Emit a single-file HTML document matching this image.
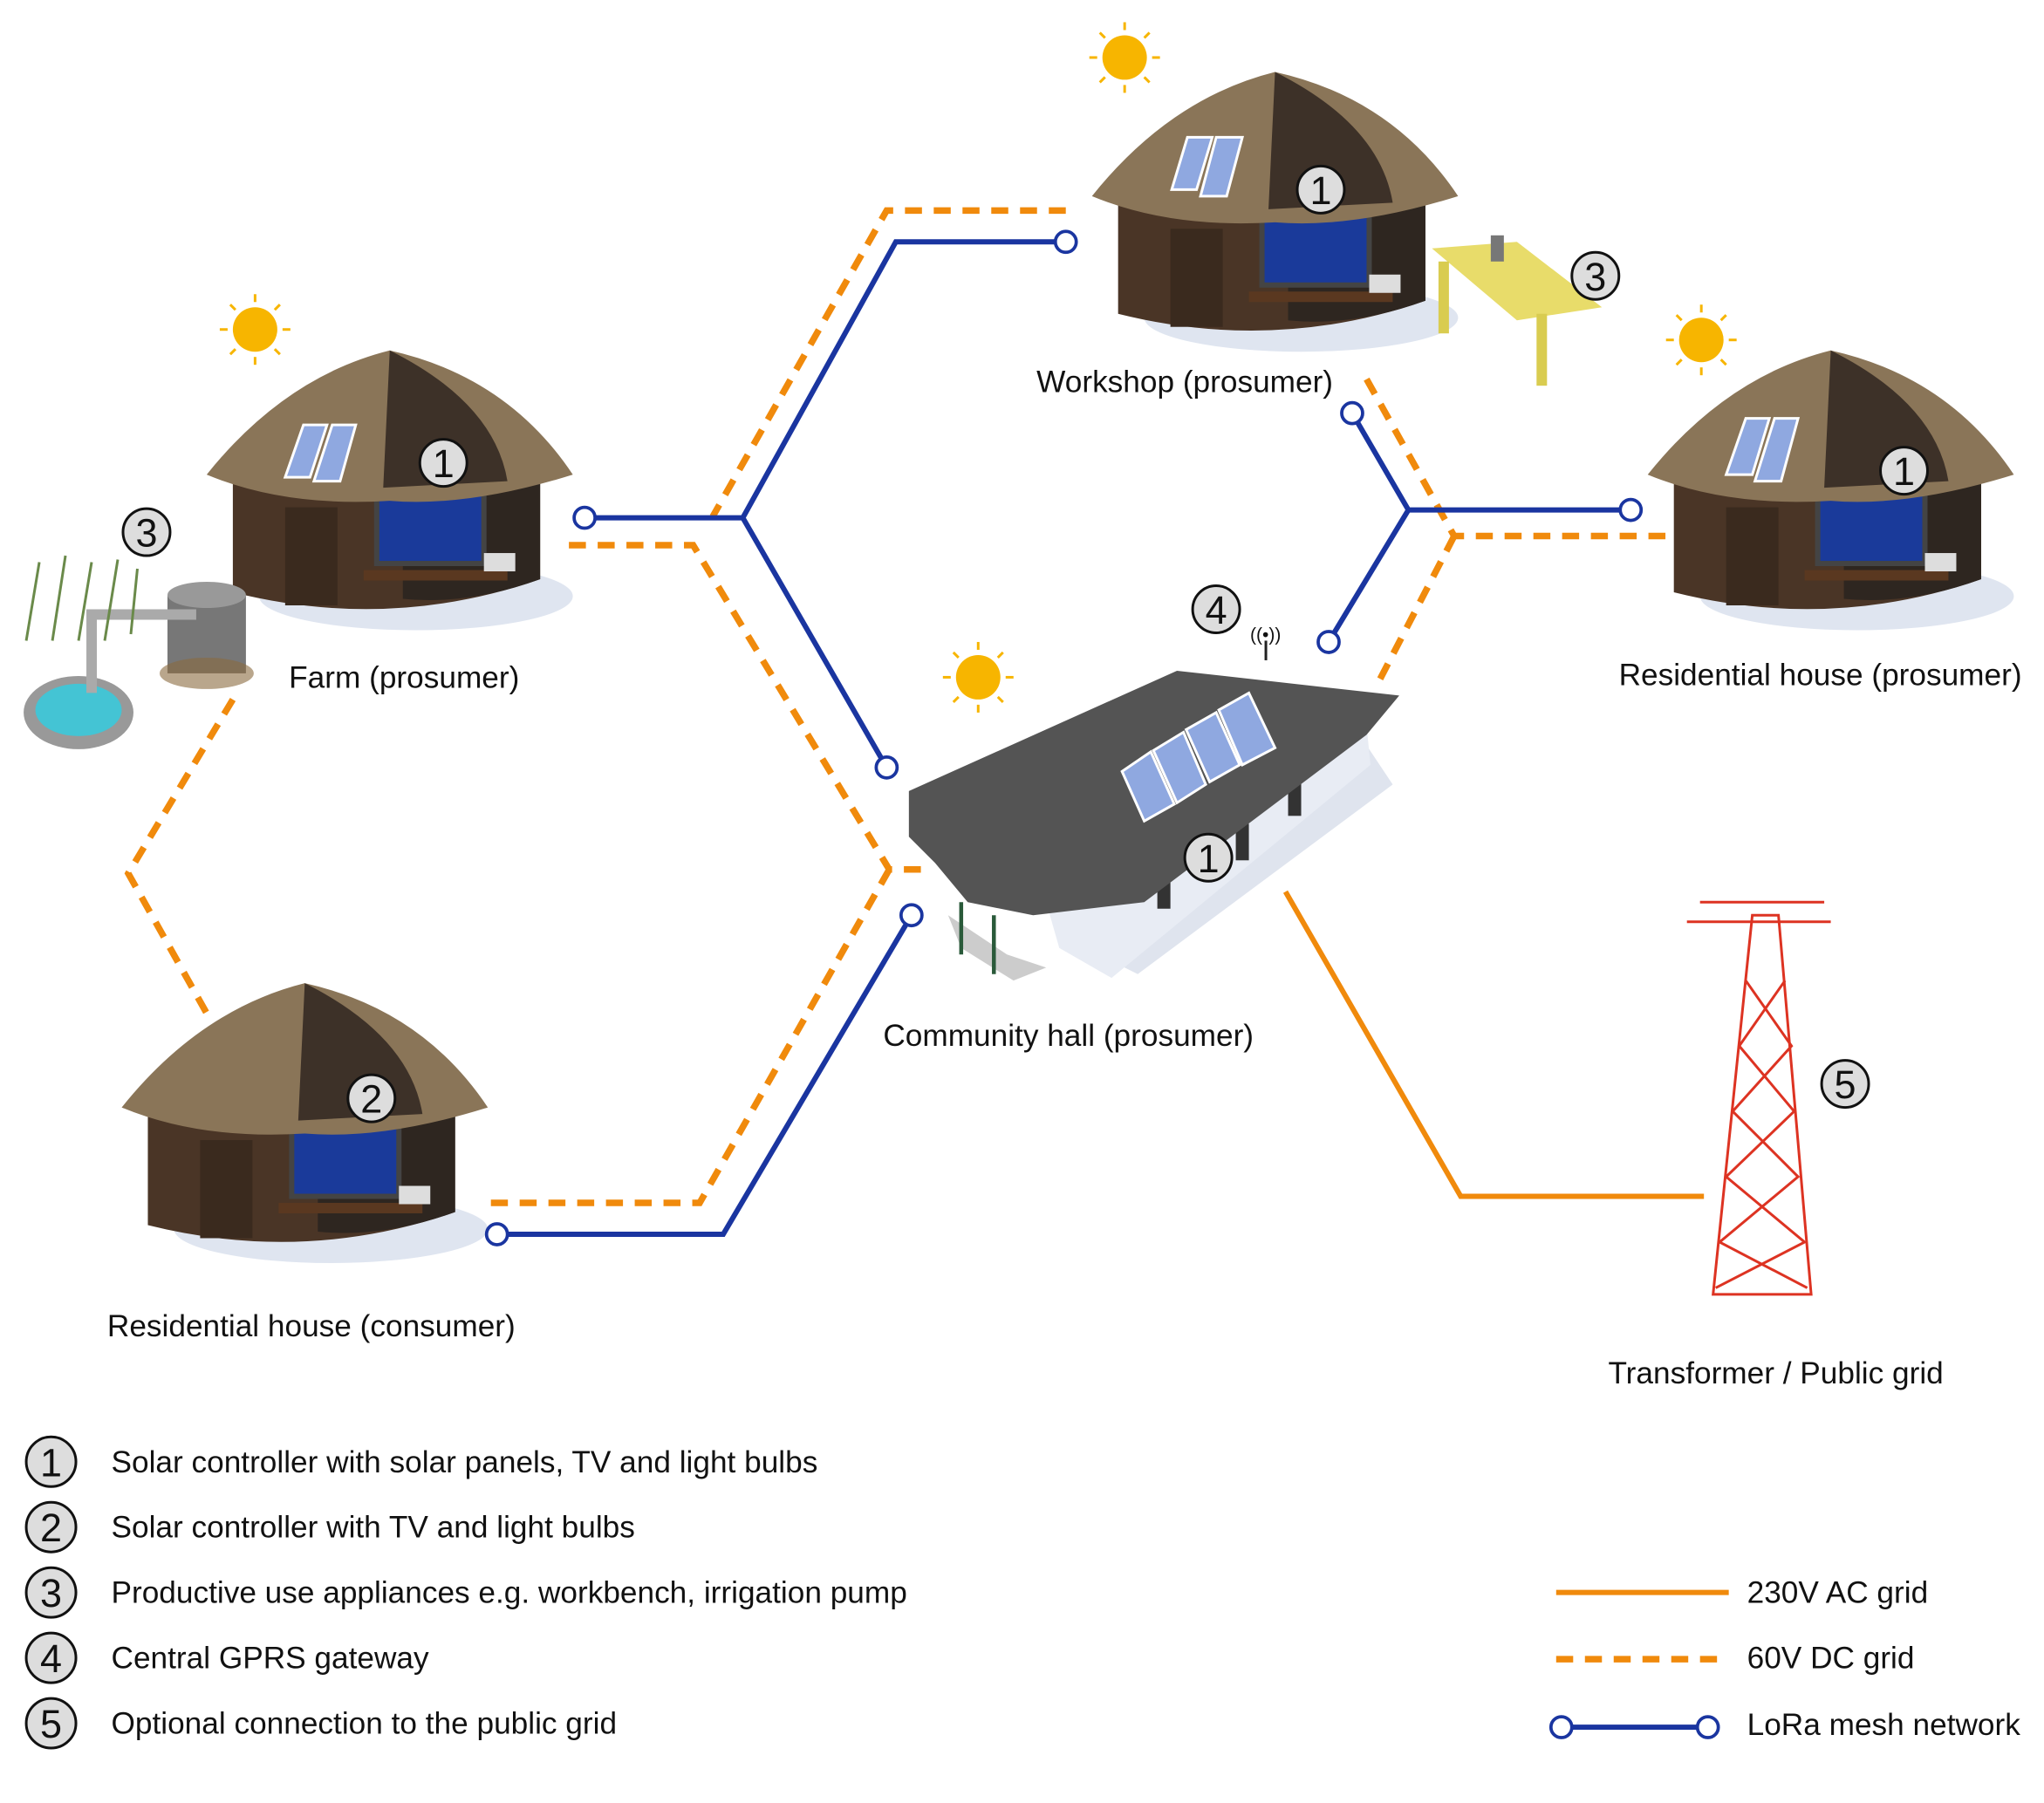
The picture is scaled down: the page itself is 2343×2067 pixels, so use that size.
<!DOCTYPE html>
<html><head><meta charset="utf-8"><style>
html,body{margin:0;padding:0;background:#fff}
svg{display:block}
text{font-family:"Liberation Sans",sans-serif;fill:#111}
</style></head><body>
<svg width="2343" height="2067" viewBox="0 0 1563 1379" xmlns="http://www.w3.org/2000/svg">
<defs>
<g id="sun"><circle r="17" fill="#f7b500"/><g stroke="#f7b500" stroke-width="2">
<line x1="0" y1="-21" x2="0" y2="-27"/><line x1="0" y1="21" x2="0" y2="27"/><line x1="-21" y1="0" x2="-27" y2="0"/><line x1="21" y1="0" x2="27" y2="0"/>
<line x1="15" y1="15" x2="19" y2="19"/><line x1="-15" y1="15" x2="-19" y2="19"/><line x1="15" y1="-15" x2="19" y2="-19"/><line x1="-15" y1="-15" x2="-19" y2="-19"/></g></g>
<g id="hut">
<ellipse cx="160" cy="188" rx="120" ry="26" fill="#dfe5f0"/>
<path d="M20 100 L20 185 Q140 215 255 175 L255 100 Z" fill="#4a3526"/>
<path d="M150 95 L255 100 L255 175 Q200 195 150 190 Z" fill="#2e2620"/>
<rect x="60" y="120" width="40" height="75" fill="#3a2a1e"/>
<rect x="130" y="105" width="82" height="58" fill="#1a3a9a" stroke="#444" stroke-width="4"/>
<rect x="120" y="168" width="110" height="8" fill="#5a3820"/>
<rect x="212" y="155" width="24" height="14" fill="#ddd"/>
<path d="M0 95 Q60 20 140 0 Q230 20 280 95 Q200 120 140 115 Q60 120 0 95 Z" fill="#8a7558"/>
<path d="M140 0 L135 105 L230 100 Q220 40 140 0 Z" fill="#3d3128"/>
</g>
</defs>

<use href="#sun" x="860" y="44"/>
<use href="#sun" x="195" y="252"/>
<use href="#sun" x="1301" y="260"/>
<use href="#sun" x="748" y="518"/>

<use href="#hut" x="835" y="55"/>
<use href="#hut" x="158" y="268"/>
<use href="#hut" x="1260" y="268"/>
<use href="#hut" x="93" y="752"/>
<g fill="#8fa8e0" stroke="#fff" stroke-width="2">
<polygon points="908,105 927,105 915,145 896,145"/><polygon points="930,105 950,105 938,150 918,150"/>
<polygon points="232,325 250,325 237,365 218,365"/><polygon points="254,325 272,325 260,368 240,368"/>
<polygon points="1335,320 1353,320 1340,363 1320,363"/><polygon points="1357,320 1375,320 1362,368 1342,368"/>
</g>

<polygon points="1095,190 1160,185 1225,235 1160,245" fill="#e8dc6a"/>
<rect x="1100" y="200" width="8" height="55" fill="#d9cc50"/><rect x="1175" y="240" width="8" height="55" fill="#d9cc50"/>
<rect x="1140" y="180" width="10" height="20" fill="#777"/>
<ellipse cx="60" cy="545" rx="42" ry="28" fill="#999"/><ellipse cx="60" cy="543" rx="33" ry="20" fill="#44c4d4"/>
<rect x="128" y="455" width="60" height="60" fill="#777"/><ellipse cx="158" cy="455" rx="30" ry="10" fill="#999"/>
<ellipse cx="158" cy="515" rx="36" ry="12" fill="#8a6a40" opacity="0.6"/>
<path d="M70 530 V470 H150" stroke="#aaa" stroke-width="8" fill="none"/>
<g stroke="#6a8a4a" stroke-width="2"><line x1="20" y1="490" x2="30" y2="430"/><line x1="40" y1="490" x2="50" y2="425"/><line x1="60" y1="490" x2="70" y2="430"/><line x1="80" y1="490" x2="90" y2="428"/><line x1="100" y1="485" x2="105" y2="435"/></g>

<!-- community hall -->
<polygon points="1045,570 1065,600 870,745 850,735" fill="#dfe4ee"/>
<polygon points="800,690 1045,555 1048,585 850,748 810,725" fill="#e8ecf4"/>
<g fill="#333"><rect x="885" y="665" width="10" height="30"/><rect x="945" y="630" width="10" height="28"/><rect x="985" y="598" width="10" height="26"/></g>
<polygon points="695,605 900,513 1070,532 1045,562 875,690 790,700 740,690 715,660 695,640" fill="#545454"/>
<polygon points="725,700 770,730 800,740 775,750 735,725" fill="#ccc"/>
<line x1="735" y1="690" x2="735" y2="730" stroke="#2a5a3a" stroke-width="3"/>
<line x1="760" y1="700" x2="760" y2="745" stroke="#2a5a3a" stroke-width="3"/>
<g fill="#8fa8e0" stroke="#fff" stroke-width="2">
<polygon points="858,590 880,575 898,615 875,628"/><polygon points="882,574 905,560 922,600 900,614"/>
<polygon points="907,558 930,545 948,585 925,598"/><polygon points="932,543 955,530 975,572 950,585"/></g>
<line x1="968" y1="505" x2="968" y2="490" stroke="#222" stroke-width="2"/>
<text x="956" y="490" font-size="14">((•))</text>

<g stroke="#d32" stroke-width="2" fill="none">
<polygon points="1340,700 1360,700 1385,990 1310,990"/>
<line x1="1290" y1="705" x2="1400" y2="705"/><line x1="1300" y1="690" x2="1395" y2="690"/>
<path d="M1335 750 L1370 800 L1325 850 L1375 900 L1315 950 L1382 985"/>
<path d="M1365 750 L1330 800 L1372 850 L1320 900 L1380 950 L1312 985"/>
</g>

<g stroke="#f08a0c" stroke-width="5" fill="none" stroke-dasharray="13 9">
<polyline points="815,161 678,161 545,395"/>
<polyline points="435,417 530,417 680,665 712,665"/>
<polyline points="680,665 535,920 370,920"/>
<polyline points="178,535 98,668 158,775"/>
<polyline points="1045,290 1112,410 1280,410"/>
<polyline points="1112,410 1055,520"/>
</g>
<polyline points="983,682 1117,915 1303,915" stroke="#f08a0c" stroke-width="4" fill="none"/>
<g stroke="#1a35a0" stroke-width="4" fill="none">
<polyline points="447,396 568,396 685,185 815,185"/>
<polyline points="568,396 678,587"/>
<polyline points="697,700 553,944 380,944"/>
<polyline points="1034,316 1077,390 1247,390"/>
<polyline points="1077,390 1016,491"/>
</g>
<g stroke="#1a35a0" stroke-width="2.5" fill="#fff">
<circle cx="447" cy="396" r="8"/><circle cx="815" cy="185" r="8"/><circle cx="678" cy="587" r="8"/>
<circle cx="697" cy="700" r="8"/><circle cx="380" cy="944" r="8"/><circle cx="1034" cy="316" r="8"/>
<circle cx="1247" cy="390" r="8"/><circle cx="1016" cy="491" r="8"/>
</g>

<g font-size="30" text-anchor="middle">
<g><circle cx="1010" cy="145" r="18" fill="#ddd" stroke="#111" stroke-width="2"/><text x="1010" y="156">1</text></g>
<g><circle cx="1220" cy="211" r="18" fill="#ddd" stroke="#111" stroke-width="2"/><text x="1220" y="222">3</text></g>
<g><circle cx="339" cy="354" r="18" fill="#ddd" stroke="#111" stroke-width="2"/><text x="339" y="365">1</text></g>
<g><circle cx="112" cy="407" r="18" fill="#ddd" stroke="#111" stroke-width="2"/><text x="112" y="418">3</text></g>
<g><circle cx="1456" cy="360" r="18" fill="#ddd" stroke="#111" stroke-width="2"/><text x="1456" y="371">1</text></g>
<g><circle cx="930" cy="466" r="18" fill="#ddd" stroke="#111" stroke-width="2"/><text x="930" y="477">4</text></g>
<g><circle cx="924" cy="656" r="18" fill="#ddd" stroke="#111" stroke-width="2"/><text x="924" y="667">1</text></g>
<g><circle cx="284" cy="840" r="18" fill="#ddd" stroke="#111" stroke-width="2"/><text x="284" y="851">2</text></g>
<g><circle cx="1411" cy="829" r="18" fill="#ddd" stroke="#111" stroke-width="2"/><text x="1411" y="840">5</text></g>
</g>

<g font-size="23.5" text-anchor="middle">
<text x="906" y="300">Workshop (prosumer)</text>
<text x="309" y="526">Farm (prosumer)</text>
<text x="1392" y="524">Residential house (prosumer)</text>
<text x="817" y="800">Community hall (prosumer)</text>
<text x="238" y="1022">Residential house (consumer)</text>
<text x="1358" y="1058">Transformer / Public grid</text>
</g>

<g font-size="30" text-anchor="middle">
<circle cx="39" cy="1118" r="19" fill="#ddd" stroke="#111" stroke-width="2"/><text x="39" y="1129">1</text>
<circle cx="39" cy="1168" r="19" fill="#ddd" stroke="#111" stroke-width="2"/><text x="39" y="1179">2</text>
<circle cx="39" cy="1218" r="19" fill="#ddd" stroke="#111" stroke-width="2"/><text x="39" y="1229">3</text>
<circle cx="39" cy="1268" r="19" fill="#ddd" stroke="#111" stroke-width="2"/><text x="39" y="1279">4</text>
<circle cx="39" cy="1318" r="19" fill="#ddd" stroke="#111" stroke-width="2"/><text x="39" y="1329">5</text>
</g>
<g font-size="23.5">
<text x="85" y="1126">Solar controller with solar panels,  TV and light bulbs</text>
<text x="85" y="1176">Solar controller with TV and light bulbs</text>
<text x="85" y="1226">Productive use appliances e.g. workbench, irrigation pump</text>
<text x="85" y="1276">Central GPRS gateway</text>
<text x="85" y="1326">Optional connection to the public grid</text>
<text x="1336" y="1226">230V AC grid</text>
<text x="1336" y="1276">60V DC grid</text>
<text x="1336" y="1327">LoRa mesh network</text>
</g>
<line x1="1190" y1="1218" x2="1322" y2="1218" stroke="#f08a0c" stroke-width="4"/>
<line x1="1190" y1="1269" x2="1322" y2="1269" stroke="#f08a0c" stroke-width="5" stroke-dasharray="13 9"/>
<line x1="1194" y1="1321" x2="1306" y2="1321" stroke="#1a35a0" stroke-width="4"/>
<circle cx="1194" cy="1321" r="8" fill="#fff" stroke="#1a35a0" stroke-width="2.5"/>
<circle cx="1306" cy="1321" r="8" fill="#fff" stroke="#1a35a0" stroke-width="2.5"/>
</svg>
</body></html>
